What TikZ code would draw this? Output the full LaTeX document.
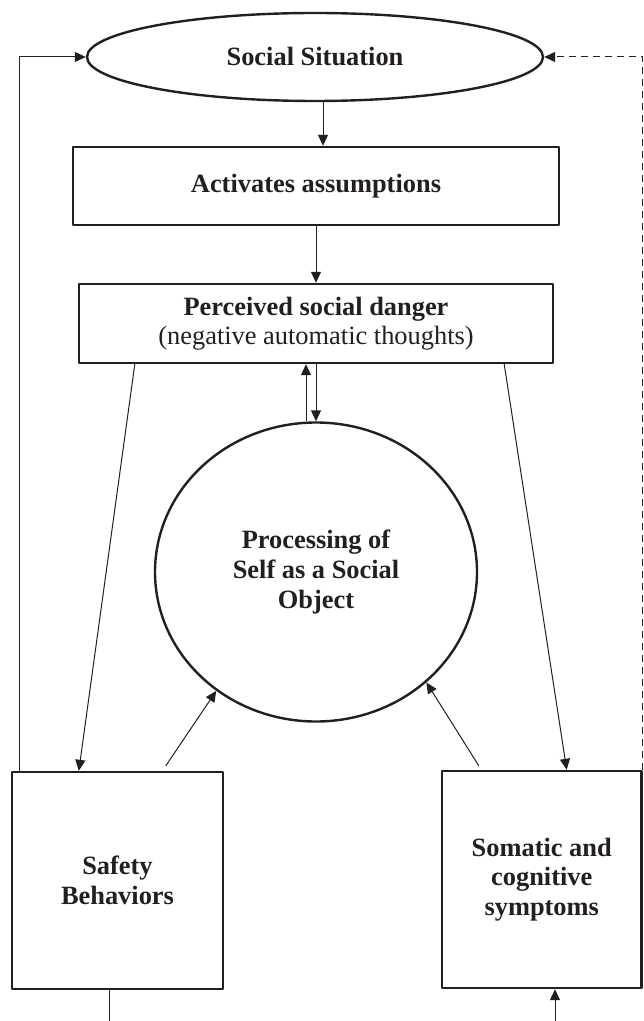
\documentclass[tikz,border=0pt]{standalone}
\usepackage{fontspec}
\setmainfont{Liberation Serif}
\usetikzlibrary{arrows.meta,calc,shapes.geometric}
\definecolor{inkline}{RGB}{35,31,32}

\begin{document}
\begin{tikzpicture}[x=0.5pt,y=-0.5pt,line join=round,
  txt/.style={font=\fontsize{13.2}{14.8}\selectfont,align=center,text=inkline},
  box/.style={txt,draw=inkline,line width=1.2pt,inner sep=0pt},
  oval/.style={box,ellipse},
  link/.style={draw=inkline,line width=0.5pt,-{Triangle[length=5.5pt,width=5pt]}},
  plain/.style={draw=inkline,line width=0.5pt}]
\useasboundingbox (0,0) rectangle (643,1021);
% nodes
\node[oval,minimum width=228pt,minimum height=44pt] (situation) at (315,57) {\bfseries Social Situation};
\node[box,minimum width=243pt,minimum height=39pt] (assume) at (316,186) {\bfseries Activates assumptions};
\node[box,minimum width=237pt,minimum height=39.5pt] (danger) at (316,323.5) {\bfseries Perceived social danger\\(negative automatic thoughts)};
\node[oval,minimum width=161pt,minimum height=149.5pt] (self) at (316,572) {\bfseries Processing of\\\bfseries Self as a Social\\\bfseries Object};
\node[box,minimum width=105.5pt,minimum height=108.5pt] (safety) at (117.5,880.5) {\bfseries Safety\\\bfseries Behaviors};
\node[box,minimum width=99.75pt,minimum height=108.5pt] (somatic) at (541.75,879.5) {\bfseries Somatic and\\\bfseries cognitive\\\bfseries symptoms};
\coordinate (safetyout) at (109,1021);
\coordinate (somaticin) at (555,1021);
% connectors
\draw[link] ($(situation.south)+(8,0)$) -- ($(assume.north)+(7,0)$);
\draw[link] (assume.south) -- (danger.north);
\draw[link] (danger.south) -- (self.north);
\draw[link] ($(self.north)+(-10,0)$) -- ($(danger.south)+(-10,0)$);
\draw[link] ($(danger.south west)+(57,0)$) -- ($(safety.north west)+(68,0)$);
\draw[link] ($(danger.south east)+(-50,0)$) -- ($(somatic.north east)+(-76,0)$);
\draw[link] ($(safety.north west)+(155,-5)$) -- (self.230);
\draw[link] ($(somatic.north west)+(38,-4)$) -- (self.315);
\draw[link] ($(safety.north west)+(9,0)$) |- (situation.west);
\draw[link,dash pattern=on 3.5pt off 2.5pt] (somatic.north east) |- (situation.east);
\draw[plain] (safety.south -| safetyout) -- (safetyout);
\draw[link] (somaticin) -- (somatic.south -| somaticin);
\end{tikzpicture}
\end{document}
